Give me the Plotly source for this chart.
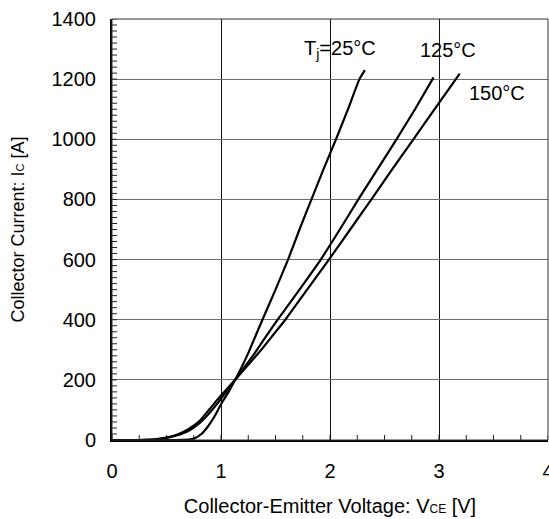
import plotly.graph_objects as go

# Collector current vs collector-emitter voltage
v_25 = [0, 0.55, 0.70, 0.76, 0.82, 0.88, 0.94, 1.005, 1.07, 1.13, 1.19, 1.25, 1.38, 1.50, 1.615, 1.72, 1.83, 1.94, 2.055, 2.165, 2.27, 2.32]
i_25 = [0, 0, 1, 6, 20, 45, 78, 122, 160, 200, 243, 289, 400, 500, 600, 700, 800, 900, 1000, 1100, 1200, 1230]

v_125 = [0, 0.25, 0.40, 0.50, 0.60, 0.70, 0.80, 0.89, 0.975, 1.05, 1.13, 1.22, 1.31, 1.41, 1.52, 1.72, 1.915, 2.09, 2.26, 2.435, 2.61, 2.78, 2.95]
i_125 = [0, 0, 2, 7, 16, 30, 55, 88, 125, 162, 200, 245, 289, 343, 400, 500, 600, 700, 800, 900, 1000, 1100, 1206]

v_150 = [0, 0.25, 0.40, 0.50, 0.60, 0.70, 0.80, 0.90, 1.00, 1.13, 1.25, 1.37, 1.48, 1.59, 1.79, 1.99, 2.185, 2.38, 2.57, 2.765, 2.96, 3.19]
i_150 = [0, 0, 2, 8, 18, 36, 62, 105, 148, 200, 250, 300, 350, 400, 500, 600, 700, 800, 900, 1000, 1100, 1218]

curve_labels = ["T<sub>j</sub>=25°C", "125°C", "150°C"]
label_x = [2.09, 3.08, 3.53]
label_y = [1297, 1297, 1154]

x_ticks = [0, 1, 2, 3, 4]
y_ticks = [0, 200, 400, 600, 800, 1000, 1200, 1400]
x_minor_step = 0.25
y_minor_step = 20

x_minor = [x_ticks[0] + k * x_minor_step for k in range(int((x_ticks[-1] - x_ticks[0]) / x_minor_step) + 1)]
y_minor = [y_ticks[0] + k * y_minor_step for k in range(int((y_ticks[-1] - y_ticks[0]) / y_minor_step) + 1)]

FONT = "Liberation Sans, Arial, sans-serif"

W, H = 549, 519
ML, MR, MT, MB = 112, 1, 19, 79
plot_w = W - ML - MR
plot_h = H - MT - MB
# tick length expressed in axis units (about 5 px)
x_tick_len = 5 * (x_ticks[-1] - x_ticks[0]) / plot_w
y_tick_len = 5 * (y_ticks[-1] - y_ticks[0]) / plot_h

fig = go.Figure()

# minor tick marks as short line segments along the left and bottom axes
tx, ty = [], []
for yv in y_minor:
    tx += [x_ticks[0], x_ticks[0] + x_tick_len, None]
    ty += [yv, yv, None]
for xv in x_minor:
    tx += [xv, xv, None]
    ty += [y_ticks[0], y_ticks[0] + y_tick_len, None]
fig.add_trace(go.Scatter(x=tx, y=ty, mode="lines", line=dict(color="#222222", width=1),
                         showlegend=False, hoverinfo="skip", cliponaxis=False))

for v, i in [(v_25, i_25), (v_125, i_125), (v_150, i_150)]:
    fig.add_trace(go.Scatter(x=v, y=i, mode="lines",
                             line=dict(color="black", width=2.2, shape="spline", smoothing=0.4),
                             showlegend=False, hoverinfo="skip"))

for txt, lx, ly in zip(curve_labels, label_x, label_y):
    fig.add_annotation(x=lx, y=ly, text=txt, showarrow=False,
                       font=dict(family=FONT, size=20, color="black"),
                       xanchor="center", yanchor="middle")

# thin top/right border
fig.add_shape(type="rect", xref="paper", yref="paper", x0=0, y0=0, x1=1, y1=1,
              line=dict(color="#333333", width=1), layer="above")

fig.update_layout(
    width=W, height=H,
    margin=dict(l=ML, r=MR, t=MT, b=MB),
    paper_bgcolor="white", plot_bgcolor="white",
    font=dict(family=FONT, size=20, color="black"),
    xaxis=dict(
        range=[x_ticks[0], x_ticks[-1]], tickvals=x_ticks, ticktext=[str(t) for t in x_ticks],
        automargin=False,
        showgrid=True, gridcolor="#111111", gridwidth=1,
        zeroline=False, showline=True, linecolor="black", linewidth=2,
        ticks="", ticklabelstandoff=12,
        ticklabeloverflow="allow",
        title=dict(text="Collector-Emitter Voltage: V<span style='font-size:12px'>CE</span> [V]",
                   font=dict(family=FONT, size=20), standoff=18),
    ),
    yaxis=dict(
        range=[y_ticks[0], y_ticks[-1]], tickvals=y_ticks, ticktext=[str(t) for t in y_ticks],
        automargin=False,
        showgrid=True, gridcolor="#6e6e6e", gridwidth=1,
        zeroline=False, showline=True, linecolor="black", linewidth=2,
        ticks="", ticklabelstandoff=10,
        ticklabeloverflow="allow",
        title=dict(text="Collector Current: I<span style='font-size:11px'>C</span> [A]",
                   font=dict(family=FONT, size=18), standoff=22),
    ),
)

fig.write_html("out.html")
